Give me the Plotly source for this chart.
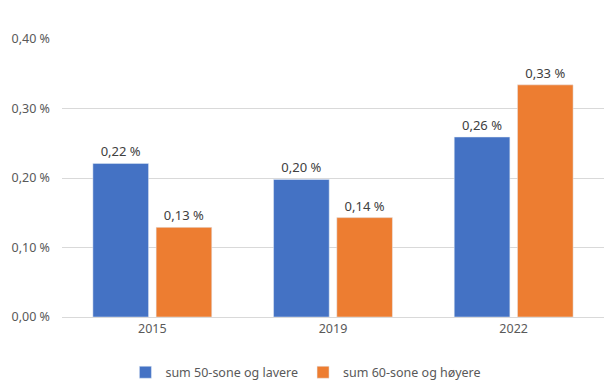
import plotly.graph_objects as go

years = ["2015", "2019", "2022"]
series_names = ["sum 50-sone og lavere", "sum 60-sone og høyere"]
low_zone = [0.221, 0.198, 0.259]      # percent
high_zone = [0.129, 0.143, 0.334]     # percent
colors = ["#4472C4", "#ED7D31"]
tick_vals = [0.0, 0.1, 0.2, 0.3, 0.4]

def fmt(v):
    return f"{v:.2f}".replace(".", ",") + " %"

tick_text = [fmt(v) for v in tick_vals]

fig = go.Figure()
for name, vals, col in zip(series_names, [low_zone, high_zone], colors):
    fig.add_trace(go.Bar(
        x=years, y=vals, name=name, marker_color=col,
        text=[fmt(v) for v in vals], textposition="outside",
        textfont=dict(size=13, color="#404040"),
        cliponaxis=False,
    ))

fig.update_layout(
    width=606, height=377,
    margin=dict(l=54, r=10, t=31, b=68, autoexpand=False),
    paper_bgcolor="white", plot_bgcolor="white",
    barmode="group", bargap=0.3, bargroupgap=0.12,
    font=dict(family="Noto Sans, Liberation Sans, sans-serif", size=12, color="#595959"),
    showlegend=True,
    legend=dict(orientation="h", x=0.45, xanchor="center", y=-0.2, yanchor="middle",
                font=dict(size=12.5, color="#595959"), itemwidth=30,
                traceorder="normal"),
)
fig.update_xaxes(showgrid=False, showline=True, linecolor="#d9d9d9", linewidth=1,
                 ticks="", automargin=False, tickfont=dict(size=12.5, color="#595959"))
fig.update_yaxes(range=[0, 0.4], tickvals=tick_vals, ticktext=tick_text,
                 showgrid=True, gridcolor="#d9d9d9", gridwidth=1, automargin=False,
                 zeroline=False, showline=False, ticks="", ticklabelstandoff=11,
                 tickfont=dict(size=12.5, color="#595959"))

fig.write_html("out.html")
